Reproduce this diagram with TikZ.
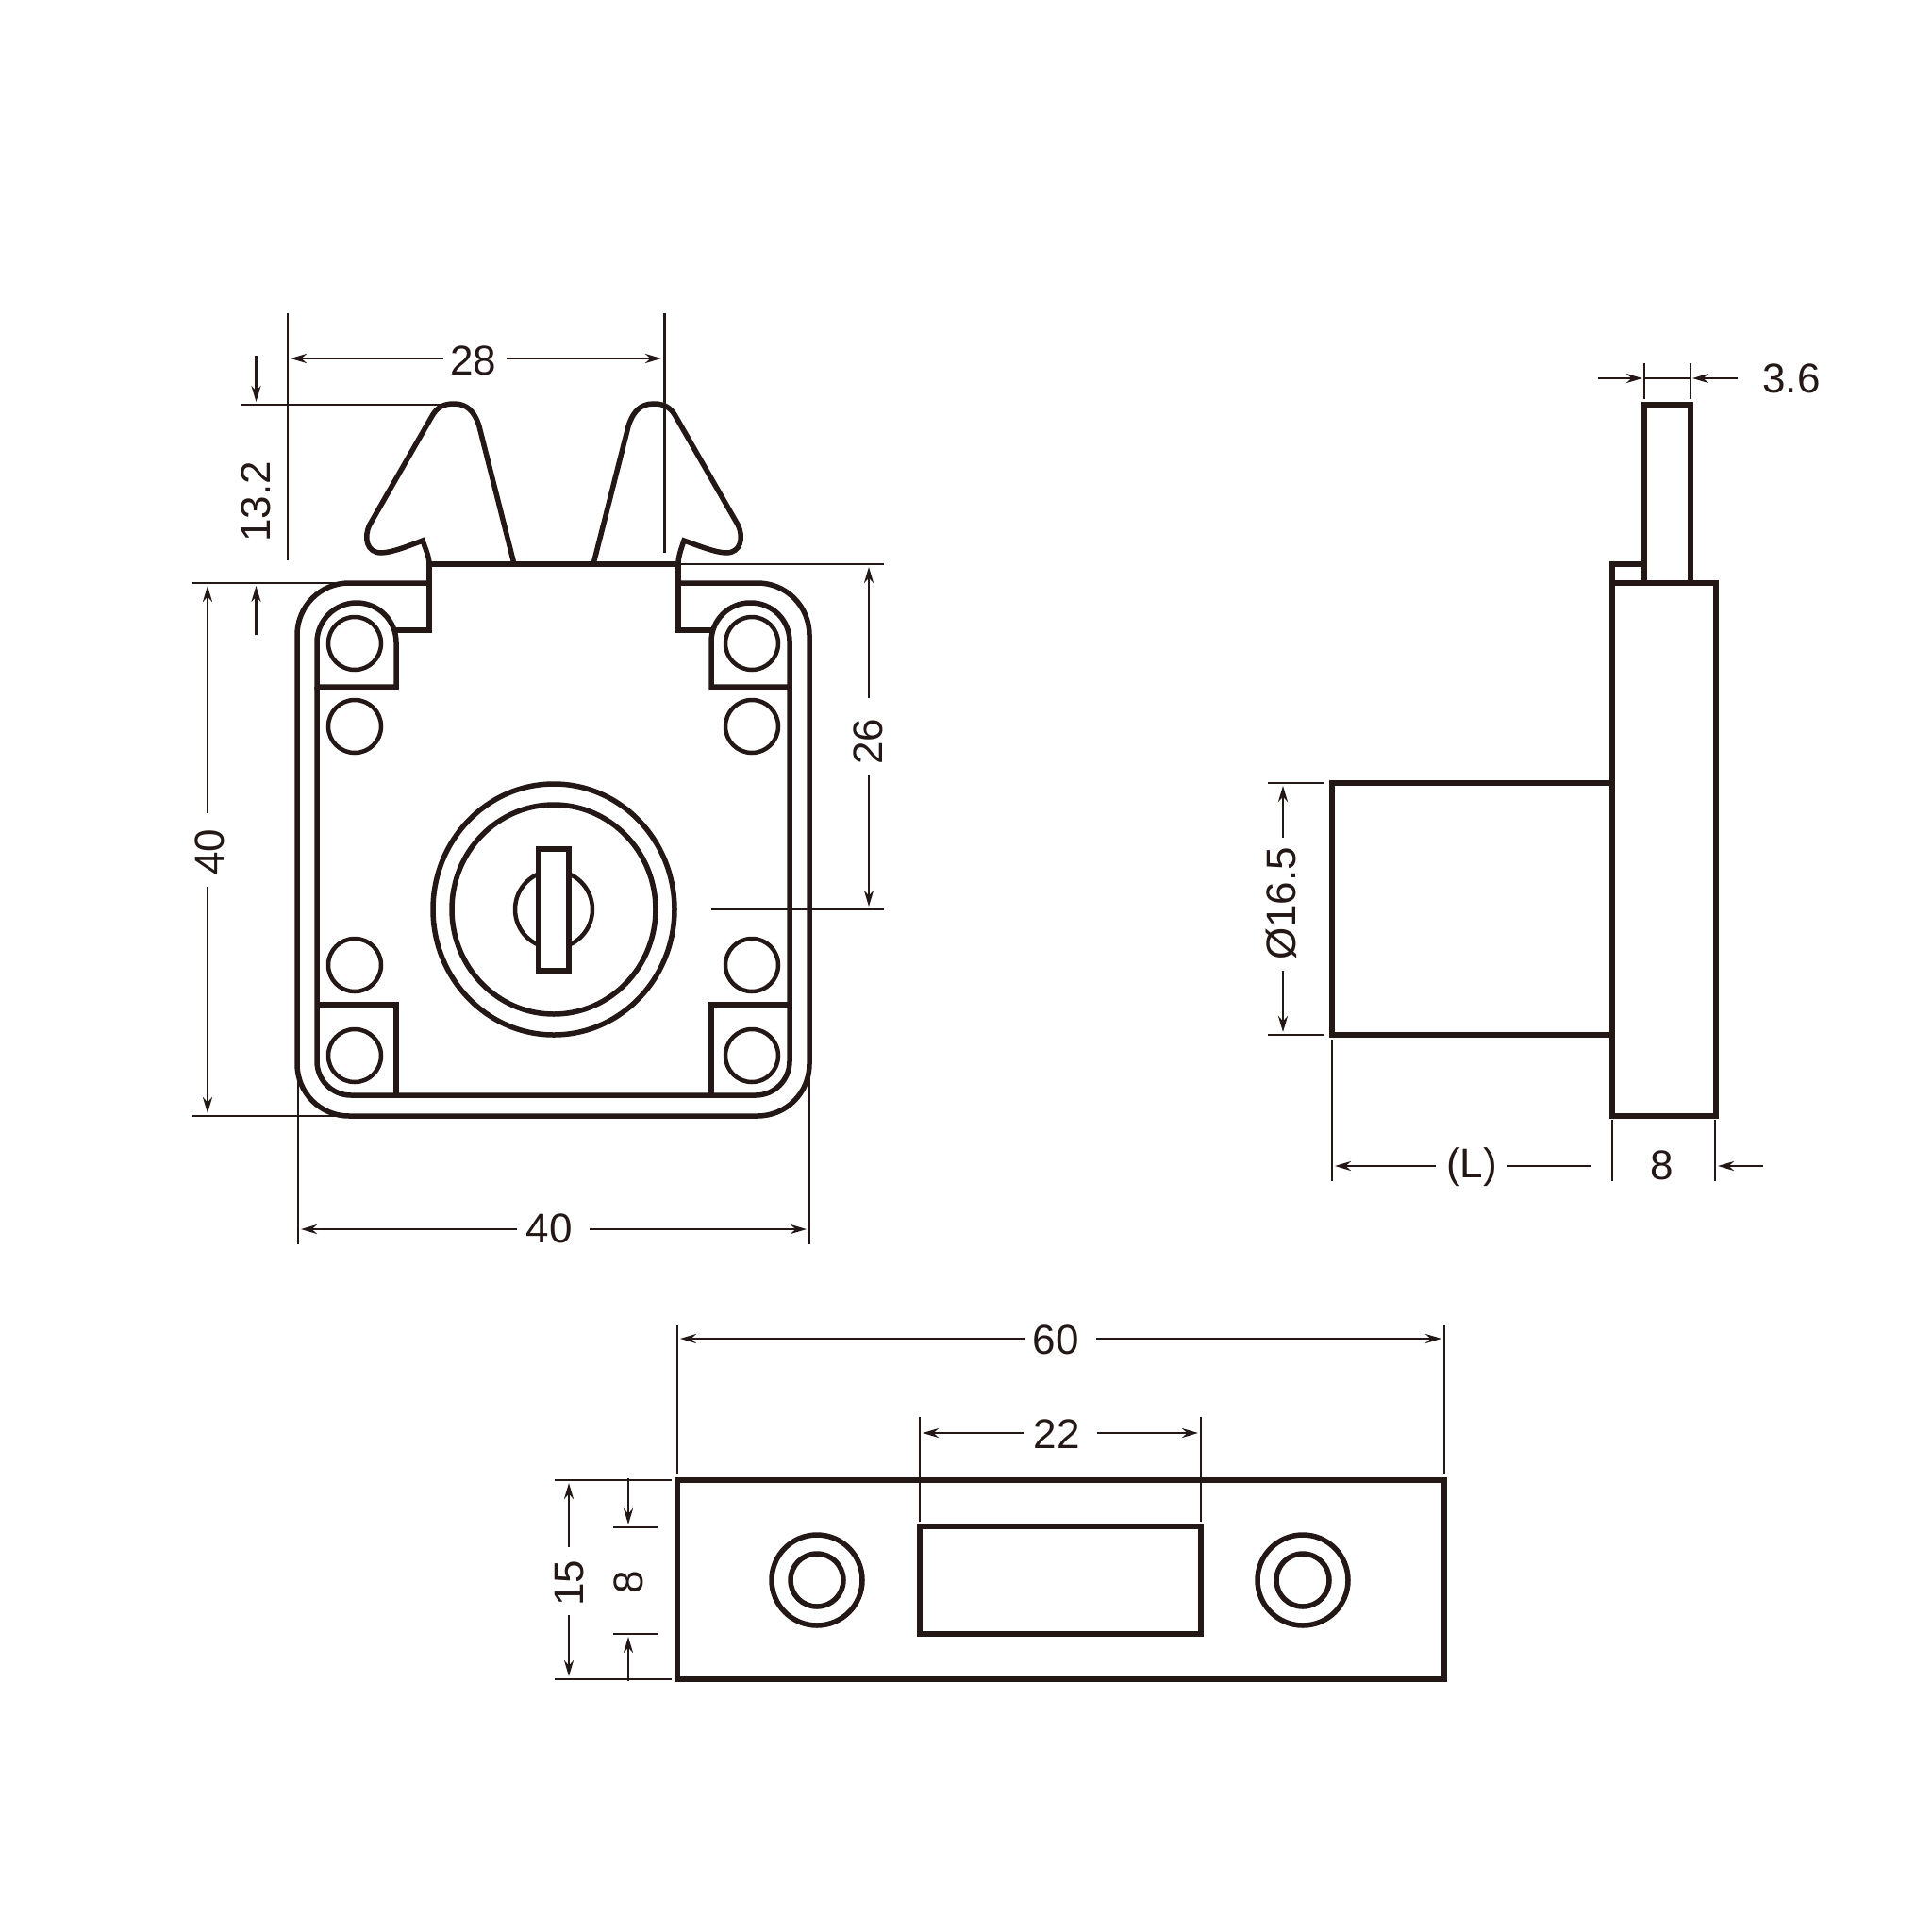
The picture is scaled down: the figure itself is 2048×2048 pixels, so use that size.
\documentclass[tikz,border=0pt]{standalone}
\usepackage{fontspec}
\setmainfont{Liberation Sans}
\usetikzlibrary{arrows.meta}
\definecolor{ink}{HTML}{231815}
\tikzset{
	part/.style={draw=ink, line width=5.5pt, line join=miter},
	thin part/.style={draw=ink, line width=4.5pt},
	dimline/.style={draw=ink, line width=2.8pt},
	dimarrow/.style={dimline, -{Stealth[length=17pt,width=10pt]}},
	dimtext/.style={text=ink, inner sep=0pt, font=\fontsize{44}{44}\selectfont}
}
\begin{document}
\begin{tikzpicture}[x=1pt,y=-1pt]
	\useasboundingbox (0,0) rectangle (2048,2048);

	% Koordinaten
	\coordinate (keym) at (587,964);
	\coordinate (tl) at (376,682);
	\coordinate (tr) at (797,682);
	\coordinate (ml) at (376,770);
	\coordinate (mr) at (797,770);
	\coordinate (ul) at (376,1023);
	\coordinate (ur) at (797,1023);
	\coordinate (bl) at (376,1119);
	\coordinate (br) at (797,1119);

	% Vorderansicht: Platte
	\draw[part, rounded corners=55pt] (455,618) -- (315,618) -- (315,1183) -- (858,1183) -- (858,618) -- (719,618);
	\draw[part, rounded corners=36pt] (336,728) -- (336,1161) -- (837,1161) -- (837,728);
	\draw[part] (336,728) [rounded corners=42pt] -- (336,639) -- (420,639) [sharp corners] -- (420,728) -- cycle;
	\draw[part] (837,728) [rounded corners=41pt] -- (837,639) -- (754,639) [sharp corners] -- (754,728) -- cycle;
	\draw[part] (420,668) -- (455,668) -- (455,598) -- (719,598) -- (719,668) -- (754,668);
	\draw[part] (336,1065) -- (420,1065) -- (420,1161);
	\draw[part] (837,1065) -- (754,1065) -- (754,1161);

	% Zinken
	\draw[part, line cap=round] (545,598) -- (508,452) .. controls (503,436) and (495,428) .. (481,428) .. controls (470,428) and (463,432) .. (458,441) -- (392,556) .. controls (385,570) and (389,586) .. (404,586) .. controls (415,586) and (435,578) .. (448,573) .. controls (451,582) and (455,590) .. (455,598);
	\draw[part, line cap=round] (629,598) -- (666,452) .. controls (671,436) and (679,428) .. (693,428) .. controls (704,428) and (711,432) .. (716,441) -- (782,556) .. controls (789,570) and (785,586) .. (770,586) .. controls (759,586) and (739,578) .. (725,573) .. controls (722,582) and (719,590) .. (719,598);

	% Bohrungen
	\draw[thin part] (tl) circle (28);
	\draw[thin part] (tr) circle (28);
	\draw[thin part] (ml) circle (28);
	\draw[thin part] (mr) circle (28);
	\draw[thin part] (ul) circle (28);
	\draw[thin part] (ur) circle (28);
	\draw[thin part] (bl) circle (28);
	\draw[thin part] (br) circle (28);

	% Schloss
	\draw[part] (keym) ellipse [x radius=128, y radius=133];
	\draw[part] (keym) ellipse [x radius=108, y radius=111];
	\draw[thin part] (keym) circle (41);
	\draw[part, fill=white] (571,900) rectangle (603,1029);

	% Seitenansicht
	\draw[part] (1709,618) rectangle (1819,1183);
	\draw[part] (1709,618) -- (1709,598) -- (1743,598);
	\draw[part] (1743,618) -- (1743,429) -- (1792,429) -- (1792,618);
	\draw[part] (1709,830) -- (1412,830) -- (1412,1097) -- (1709,1097);

	% Draufsicht
	\draw[part] (718,1569) rectangle (1531,1780);
	\draw[part] (975,1618) rectangle (1273,1732);
	\draw[part] (866,1675) circle (48);
	\draw[part] (866,1675) circle (28);
	\draw[part] (1381,1675) circle (48);
	\draw[part] (1381,1675) circle (28);

	% Masslinien: Vorderansicht
	\draw[dimline] (305,332) -- (305,594);
	\draw[dimline] (704.5,332) -- (704.5,586);
	\draw[dimarrow] (470,380) -- (308,380);
	\draw[dimarrow] (537,380) -- (701,380);
	\node[dimtext] (lab28) at (502,382) {28};

	\draw[dimline] (256,429) -- (477,429);
	\draw[dimline] (204,618) -- (362,618);
	\draw[dimline] (204,1183) -- (362,1183);
	\draw[dimarrow] (271.5,377) -- (271.5,426);
	\draw[dimarrow] (271.5,673) -- (271.5,621);
	\node[dimtext, rotate=90] (lab132) at (271.5,532) {13.2};

	\draw[dimarrow] (220,862) -- (220,621);
	\draw[dimarrow] (220,940) -- (220,1180);
	\node[dimtext, rotate=90] (lab40l) at (222,903) {40};

	\draw[dimline] (316,1126) -- (316,1319);
	\draw[dimline] (857.5,1126) -- (857.5,1319);
	\draw[dimarrow] (548,1303) -- (319,1303);
	\draw[dimarrow] (625,1303) -- (855,1303);
	\node[dimtext] (lab40b) at (582,1302) {40};

	\draw[dimline] (719,598) -- (937,598);
	\draw[dimline] (754,964) -- (937,964);
	\draw[dimarrow] (921,740) -- (921,601);
	\draw[dimarrow] (921,822) -- (921,961);
	\node[dimtext, rotate=90] (lab26) at (920,786) {26};

	% Masslinien: Seitenansicht
	\draw[dimline] (1743,385) -- (1743,423);
	\draw[dimline] (1792,385) -- (1792,423);
	\draw[dimline] (1743,401) -- (1792,401);
	\draw[dimarrow] (1694,401) -- (1741,401);
	\draw[dimarrow] (1842,401) -- (1794,401);
	\node[dimtext] (lab36) at (1899,401) {3.6};

	\draw[dimline] (1344,830) -- (1404,830);
	\draw[dimline] (1344,1097) -- (1404,1097);
	\draw[dimarrow] (1360,888) -- (1360,833);
	\draw[dimarrow] (1360,1029) -- (1360,1094);
	\node[dimtext, rotate=90] (lab165) at (1358,958) {Ø16.5};

	\draw[dimline] (1412,1102) -- (1412,1252);
	\draw[dimline] (1709,1187) -- (1709,1252);
	\draw[dimline] (1818,1187) -- (1818,1252);
	\draw[dimarrow] (1522,1236) -- (1415,1236);
	\draw[dimline] (1598,1236) -- (1687,1236);
	\draw[dimarrow] (1869,1236) -- (1821,1236);
	\node[dimtext] (labl) at (1560,1237) {(L)};
	\node[dimtext] (lab8s) at (1762,1235) {8};

	% Masslinien: Draufsicht
	\draw[dimline] (718,1405) -- (718,1563);
	\draw[dimline] (1531,1405) -- (1531,1563);
	\draw[dimarrow] (1087,1419) -- (721,1419);
	\draw[dimarrow] (1162,1419) -- (1528,1419);
	\node[dimtext] (lab60) at (1119,1420) {60};

	\draw[dimline] (975,1502) -- (975,1613);
	\draw[dimline] (1273,1502) -- (1273,1613);
	\draw[dimarrow] (1085,1519) -- (978,1519);
	\draw[dimarrow] (1163,1519) -- (1270,1519);
	\node[dimtext] (lab22) at (1120,1520) {22};

	\draw[dimline] (588,1569) -- (712,1569);
	\draw[dimline] (588,1780) -- (712,1780);
	\draw[dimarrow] (603,1640) -- (603,1572);
	\draw[dimarrow] (603,1712) -- (603,1777);
	\node[dimtext, rotate=90] (lab15) at (604,1678) {15};

	\draw[dimline] (650,1619) -- (698,1619);
	\draw[dimline] (650,1732) -- (698,1732);
	\draw[dimarrow] (666,1567) -- (666,1616);
	\draw[dimarrow] (666,1782) -- (666,1735);
	\node[dimtext, rotate=90] (lab8t) at (666,1677) {8};
\end{tikzpicture}
\end{document}
